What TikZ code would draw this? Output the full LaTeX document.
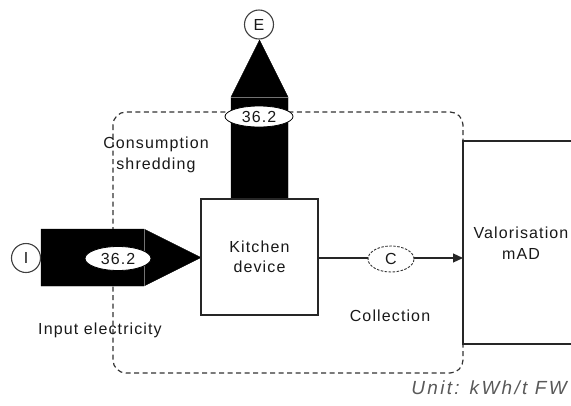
\documentclass[tikz,border=0pt]{standalone}
\usepackage{fontspec}
\setmainfont{Liberation Sans}[LetterSpace=7]
\newfontfamily\unitfont{Liberation Sans}[LetterSpace=12]
\usetikzlibrary{arrows.meta,shapes.geometric}
\tikzset{
  txt/.style={font=\fontsize{16}{20.5}\selectfont, text=black!90, align=center, inner sep=0pt},
  boxline/.style={draw=black!85, line width=1.4pt},
  boxnode/.style={rectangle, boxline, fill=white, txt},
  flowbody/.style={fill=black, draw=black},
  sep/.style={draw=black!55, line width=0.8pt},
  endcirc/.style={circle, draw=black!75, line width=1.1pt, fill=white, minimum size=29pt, inner sep=0pt, txt},
  valoval/.style={ellipse, draw=black, line width=0.8pt, fill=white, inner sep=0pt, txt},
  coval/.style={ellipse, draw=black!80, dash pattern=on 2.5pt off 1.5pt, line width=0.9pt, fill=white, inner sep=0pt, txt},
}
\begin{document}
\begin{tikzpicture}[x=1pt,y=-1pt]
\useasboundingbox (0,0) rectangle (571,405);
% system boundary
\draw[black!80, line width=1.2pt, dash pattern=on 5pt off 3.5pt, rounded corners=13pt] (113,112) rectangle (463,373);
% labels
\node[txt] (cons) at (156,155) {Consumption\\shredding};
\node[txt] (inlab) at (100,330) {Input electricity};
\node[txt] (collab) at (390,316) {Collection};
\node[txt, anchor=east, text=black!65, font=\fontsize{19}{24}\unitfont\itshape] (unit) at (567,388) {Unit: kWh/t FW};
% vertical flow (electricity out to E)
\fill[flowbody] (231,200) -- (231,97) -- (259.5,40) -- (288,97) -- (288,200) -- cycle;
\draw[sep] (231,97) -- (288,97);
\node[endcirc] (E) at (259,24.5) {E};
\node[valoval, minimum width=68pt, minimum height=21pt] (v1) at (259,116.5) {36.2};
% horizontal input flow
\fill[flowbody] (41,229) -- (144,229) -- (201,257.5) -- (144,286) -- (41,286) -- cycle;
\draw[sep] (144,229) -- (144,286);
\node[endcirc] (I) at (26,258) {I};
\node[valoval, minimum width=66pt, minimum height=24pt] (v2) at (118,258.5) {36.2};
% boxes
\node[boxnode, minimum width=117pt, minimum height=116pt] (kit) at (259.5,257) {Kitchen\\device};
\fill[white] (462,141) rectangle (571,344);
\draw[boxline] (575,141) -- (463,141) -- (463,344) -- (575,344);
\coordinate (valin) at (463,258);
\node[txt] (val) at (521,243) {Valorisation\\mAD};
% collection flow
\draw[black!85, line width=1.2pt, -{Triangle[length=10pt,width=9pt]}] (kit.east |- valin) -- (valin);
\node[coval, minimum width=46pt, minimum height=26pt] (C) at (391,259) {C};
\end{tikzpicture}
\end{document}
